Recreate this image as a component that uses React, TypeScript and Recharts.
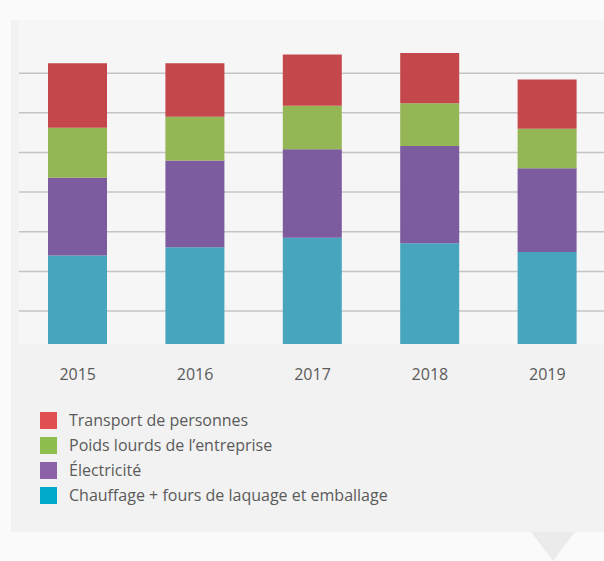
import React from "react";
import { BarChart, Bar, XAxis, YAxis, CartesianGrid } from "recharts";

// emissions per year, one unit = one gridline step
const YEARS = ["2015", "2016", "2017", "2018", "2019"];
const CHAUFFAGE = [2.4, 2.61, 2.85, 2.71, 2.49];
const ELECTRICITE = [1.96, 2.19, 2.23, 2.45, 2.11];
const POIDS_LOURDS = [1.26, 1.1, 1.1, 1.08, 1.0];
const TRANSPORT = [1.63, 1.35, 1.29, 1.27, 1.24];
const GRID_TICKS = [1, 2, 3, 4, 5, 6, 7];

const SERIES = [
  { key: "chauffage", name: "Chauffage + fours de laquage et emballage", bar: "#47a5be", swatch: "#00a9c9" },
  { key: "electricite", name: "Électricité", bar: "#7c5b9e", swatch: "#8b62a8" },
  { key: "poids", name: "Poids lourds de l’entreprise", bar: "#95b655", swatch: "#8ebf4e" },
  { key: "transport", name: "Transport de personnes", bar: "#c4484b", swatch: "#e05050" },
];

const data = YEARS.map((year, i) => ({
  year,
  chauffage: CHAUFFAGE[i],
  electricite: ELECTRICITE[i],
  poids: POIDS_LOURDS[i],
  transport: TRANSPORT[i],
}));

const FONT = "'Open Sans', 'Noto Sans', sans-serif";

export default function App(): React.JSX.Element {
  const legendItems = [...SERIES].reverse();
  return (
    <div
      style={{
        position: "absolute",
        left: 0,
        top: 0,
        width: 604,
        height: 561,
        overflow: "hidden",
        background: "#fafafa",
        fontFamily: FONT,
      }}
    >
      {/* card */}
      <div
        style={{
          position: "absolute",
          left: 11,
          top: 20,
          width: 610,
          height: 512,
          background: "#f2f2f2",
        }}
      />
      {/* speech-bubble pointer */}
      <div
        style={{
          position: "absolute",
          left: 531,
          top: 532,
          width: 0,
          height: 0,
          borderLeft: "22px solid transparent",
          borderRight: "22px solid transparent",
          borderTop: "29px solid #ebebeb",
        }}
      />
      <div style={{ position: "absolute", left: 0, top: 0 }}>
        <BarChart
          width={620}
          height={400}
          data={data}
          margin={{ top: 20, right: 14, left: 19, bottom: 0 }}
          barSize={59}
        >
          <CartesianGrid
            vertical={false}
            stroke="#c4c4c4"
            strokeWidth={1.5}
            fill="#f6f6f6"
            horizontalValues={GRID_TICKS}
          />
          <XAxis
            dataKey="year"
            axisLine={false}
            tickLine={false}
            tickSize={0}
            tickMargin={25}
            height={56}
            interval={0}
            tick={{ fill: "#5a5a5a", fontSize: 16, fontFamily: FONT }}
          />
          <YAxis
            hide
            domain={[0.17, 8.34]}
            ticks={GRID_TICKS}
            allowDataOverflow
          />
          {SERIES.map((s) => (
            <Bar
              key={s.key}
              dataKey={s.key}
              name={s.name}
              stackId="a"
              fill={s.bar}
              isAnimationActive={false}
            />
          ))}
        </BarChart>
      </div>
      {/* legend */}
      <div style={{ position: "absolute", left: 40, top: 412 }}>
        {legendItems.map((s) => (
          <div
            key={s.key}
            style={{ display: "flex", alignItems: "center", height: 25 }}
          >
            <span
              style={{
                display: "inline-block",
                width: 17,
                height: 17,
                background: s.swatch,
                marginRight: 12,
                alignSelf: "flex-start",
              }}
            />
            <span
              style={{
                fontSize: 16,
                color: "#5a5a5a",
                lineHeight: "17px",
                alignSelf: "flex-start",
              }}
            >
              {s.name}
            </span>
          </div>
        ))}
      </div>
    </div>
  );
}
